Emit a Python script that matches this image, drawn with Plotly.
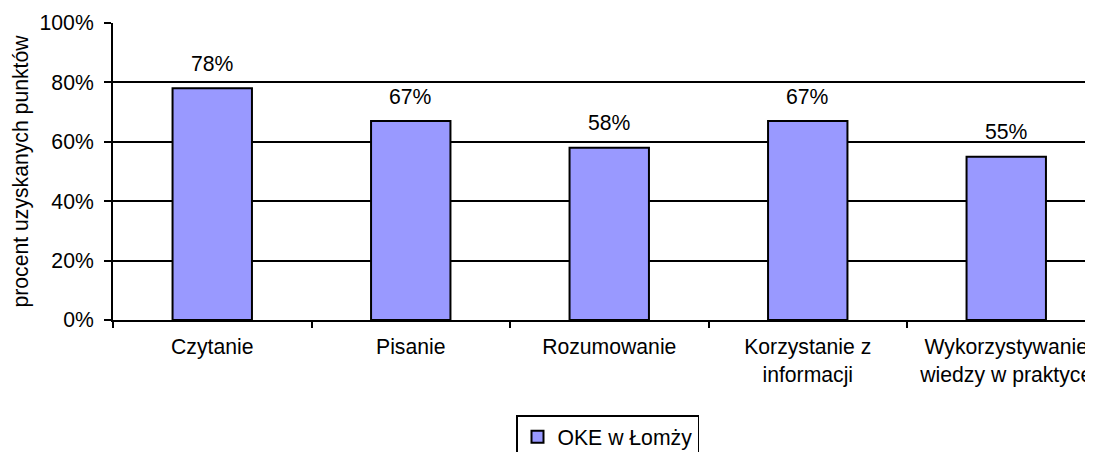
import plotly.graph_objects as go

categories = ["Czytanie", "Pisanie", "Rozumowanie", "Korzystanie z<br>informacji",
              "Wykorzystywanie<br>wiedzy w praktyce"]
values = [78, 67, 58, 67, 55]
series_name = "OKE w Łomży"
y_title = "procent uzyskanych punktów"
y_ticks = [0, 20, 40, 60, 80, 100]
y_ticklabels = ["0%", "20%", "40%", "60%", "80%", "100%"]

FONT = "Liberation Sans, Arial, sans-serif"
FS = 21.2

# page body has an 8px default margin; compensate
L, T, PH = 105, 15, 297
B = 452 - T - PH
PW = 1093 - L
CAT_PX = 198.5

fig = go.Figure()
fig.add_trace(go.Bar(
    x=categories, y=values, name=series_name,
    marker=dict(color="#9999FF", line=dict(color="black", width=2)),
    width=0.4, showlegend=True,
))

for c, v in zip(categories, values):
    fig.add_annotation(x=c, y=v, text=f"{v}%", showarrow=False,
                       yanchor="middle", yshift=25,
                       font=dict(family=FONT, size=FS, color="black"))

fig.update_layout(
    width=1093, height=452,
    margin=dict(l=L, r=0, t=T, b=B, autoexpand=False),
    paper_bgcolor="white", plot_bgcolor="white",
    font=dict(family=FONT, size=FS, color="black"),
    showlegend=True,
    legend=dict(orientation="h", x=(508 - L) / PW, y=(T + PH - 407) / PH,
                xanchor="left", yanchor="top",
                bordercolor="black", borderwidth=1.5,
                font=dict(family=FONT, size=FS, color="black")),
    bargap=0.6,
)
fig.update_xaxes(
    range=[-0.5, -0.5 + PW / CAT_PX],
    tickson="boundaries", ticks="outside", ticklen=6, tickwidth=2, tickcolor="black",
    showline=True, linecolor="black", linewidth=2,
    showgrid=False, zeroline=False, ticklabelstandoff=7,
    tickfont=dict(family=FONT, size=FS, color="black"),
)
fig.update_yaxes(
    range=[0, 100], tickvals=y_ticks, ticktext=y_ticklabels,
    ticks="outside", ticklen=7, tickwidth=2, tickcolor="black",
    showline=True, linecolor="black", linewidth=2,
    showgrid=True, gridcolor="black", gridwidth=2,
    zeroline=False, ticklabelstandoff=6,
    title=dict(text=y_title, standoff=5, font=dict(family=FONT, size=FS, color="black")),
    tickfont=dict(family=FONT, size=FS, color="black"),
)

fig.write_html("out.html")
